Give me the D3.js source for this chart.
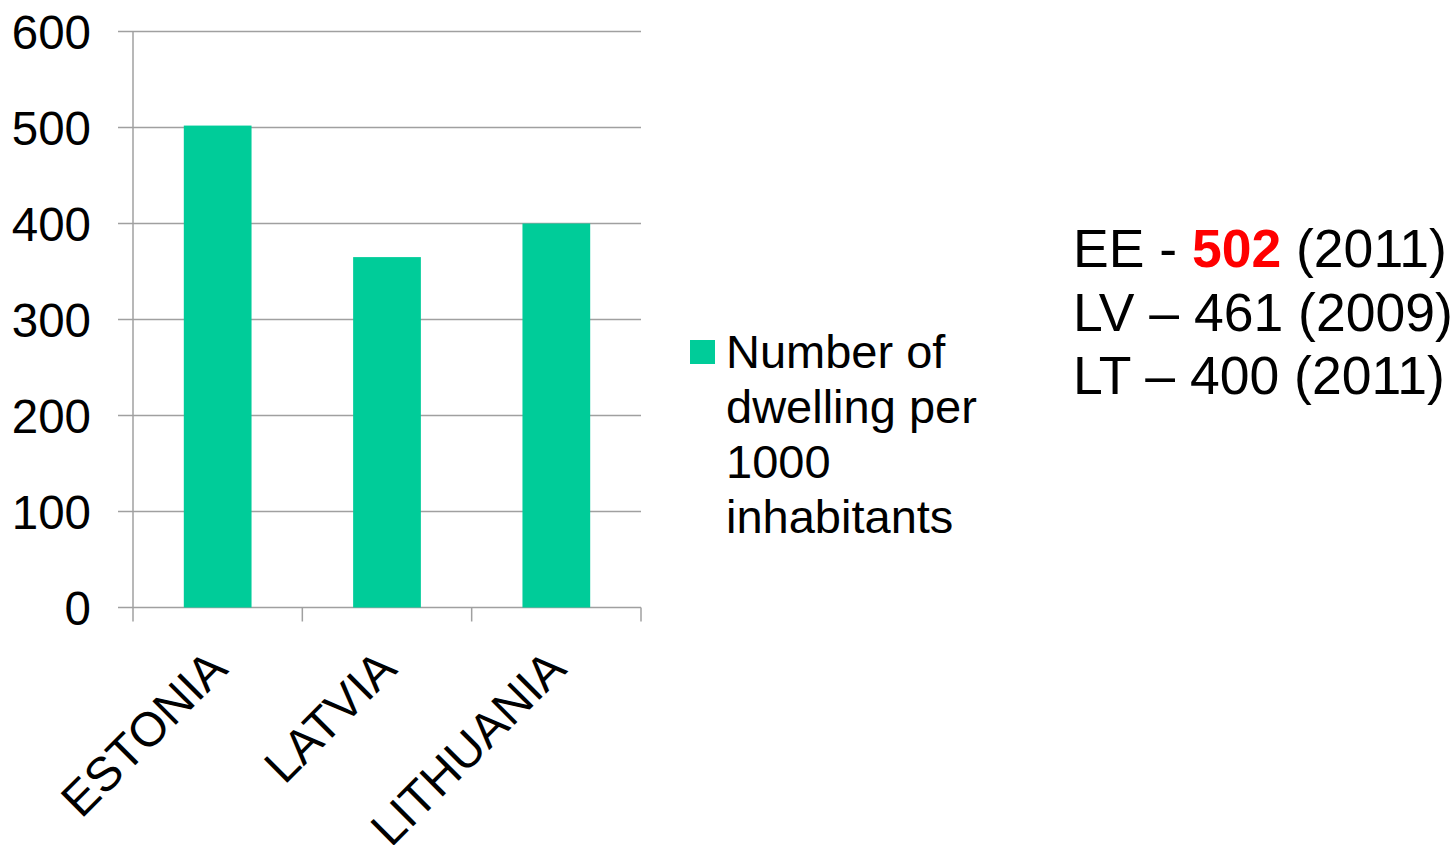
<!DOCTYPE html>
<html>
<head>
<meta charset="utf-8">
<script src="https://cdn.jsdelivr.net/npm/d3@7"></script>
<style>
  html, body { margin: 0; padding: 0; background: #fff; }
  svg { display: block; font-family: "Liberation Sans", Arial, sans-serif; }
</style>
</head>
<body>
<svg id="chart" width="1452" height="845"></svg>
<script>
// Dwellings per 1000 inhabitants, Baltic states
const countries = ["ESTONIA", "LATVIA", "LITHUANIA"];
const dwellings = [502, 365, 400];
const yTicks = [0, 100, 200, 300, 400, 500, 600];
const legendLines = ["Number of", "dwelling per", "1000", "inhabitants"];
const noteLines = [
  [{t: "EE - "}, {t: "502", hi: true}, {t: " (2011)"}],
  [{t: "LV \u2013 461 (2009)"}],
  [{t: "LT \u2013 400 (2011)"}]
];

const svg = d3.select("#chart");
const plot = {left: 133, right: 641, top: 31.5, bottom: 607.5};
const gridColor = "#a0a0a0";
const barColor = "#00cc99";

const x = d3.scaleBand().domain(countries).range([plot.left, plot.right]).padding(0);
const y = d3.scaleLinear().domain([0, 600]).range([plot.bottom, plot.top]);

// horizontal gridlines (extend left past the axis as tick marks)
svg.append("g")
  .selectAll("line")
  .data(yTicks)
  .join("line")
  .attr("x1", plot.left - 15).attr("x2", plot.right)
  .attr("y1", d => y(d)).attr("y2", d => y(d))
  .attr("stroke", gridColor).attr("stroke-width", 1.5);

// y axis line
svg.append("line")
  .attr("x1", plot.left).attr("x2", plot.left)
  .attr("y1", plot.top).attr("y2", plot.bottom)
  .attr("stroke", gridColor).attr("stroke-width", 1.5);

// x category dividers
const xEdges = countries.map(c => x(c)).concat([plot.right]);
svg.append("g")
  .selectAll("line")
  .data(xEdges)
  .join("line")
  .attr("x1", d => d).attr("x2", d => d)
  .attr("y1", plot.bottom).attr("y2", plot.bottom + 14)
  .attr("stroke", gridColor).attr("stroke-width", 1.5);

// y tick labels
svg.append("g")
  .selectAll("text")
  .data(yTicks)
  .join("text")
  .attr("x", 91)
  .attr("y", d => y(d))
  .attr("dy", "0.36em")
  .attr("text-anchor", "end")
  .attr("font-size", 47.5)
  .attr("fill", "#000")
  .text(d => d);

// bars
const barW = x.bandwidth() * 0.4;
svg.append("g")
  .selectAll("rect")
  .data(countries)
  .join("rect")
  .attr("x", c => x(c) + (x.bandwidth() - barW) / 2)
  .attr("width", barW)
  .attr("y", (c, i) => y(dwellings[i]))
  .attr("height", (c, i) => y(0) - y(dwellings[i]))
  .attr("fill", barColor);

// rotated category labels
svg.append("g")
  .selectAll("text")
  .data(countries)
  .join("text")
  .attr("transform", c => `translate(${x(c) + x.bandwidth() / 2 + 12},${671}) rotate(-45)`)
  .attr("text-anchor", "end")
  .attr("font-size", 48)
  .attr("fill", "#000")
  .text(c => c);

// legend
const legend = svg.append("g");
legend.append("rect")
  .attr("x", 690).attr("y", 340).attr("width", 25).attr("height", 24)
  .attr("fill", barColor);
legend.selectAll("text")
  .data(legendLines)
  .join("text")
  .attr("x", 726)
  .attr("y", (d, i) => 368 + i * 55)
  .attr("font-size", 47)
  .attr("fill", "#000")
  .text(d => d);

// side note
const note = svg.append("g");
noteLines.forEach((parts, i) => {
  const t = note.append("text")
    .attr("x", 1073)
    .attr("y", 267 + i * 63.5)
    .attr("font-size", 53.5)
    .attr("fill", "#000");
  parts.forEach(p => {
    t.append("tspan")
      .attr("fill", p.hi ? "#ff0000" : "#000")
      .attr("font-weight", p.hi ? "bold" : "normal")
      .text(p.t);
  });
});
</script>
</body>
</html>
